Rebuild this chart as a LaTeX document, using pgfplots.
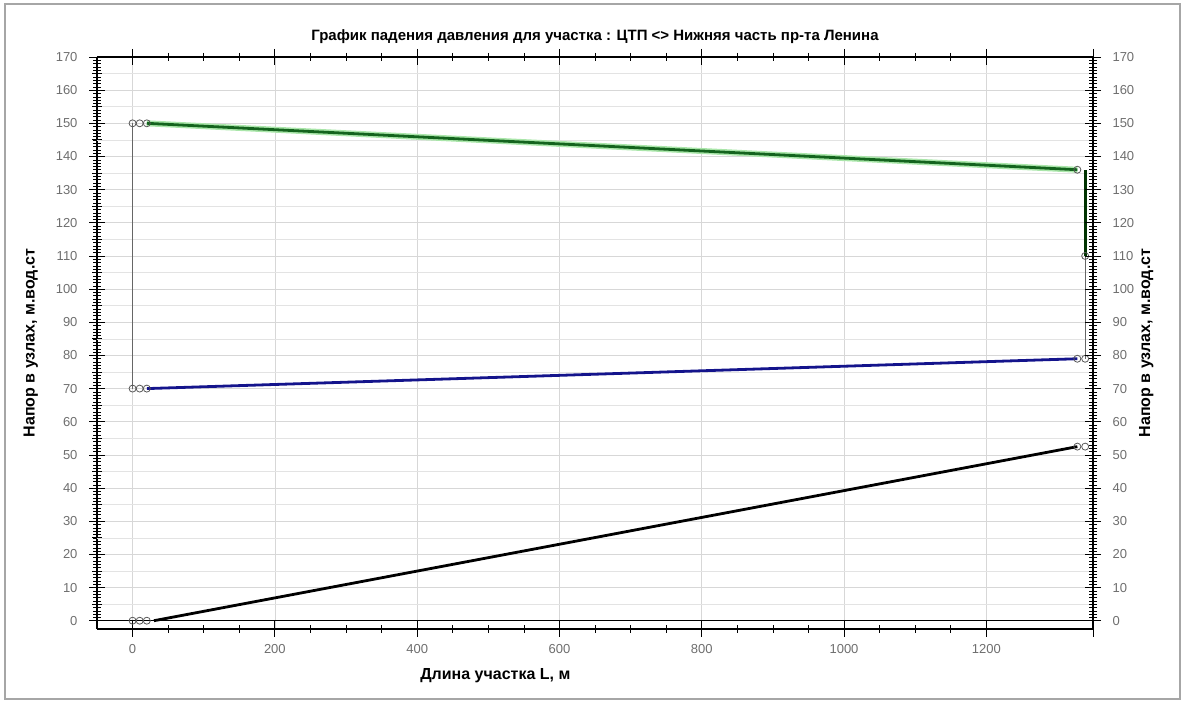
\documentclass[border=0pt]{standalone}
\usepackage{pgfplots}
\pgfplotsset{compat=1.18}
\usepackage{fontspec}
\setmainfont{Liberation Sans}
\definecolor{gridc}{RGB}{215,215,215}
\definecolor{tickc}{RGB}{110,110,110}
\definecolor{greenl}{RGB}{20,100,30}
\definecolor{greenglow}{RGB}{170,230,170}
\definecolor{bluel}{RGB}{20,20,140}
\begin{document}
\begin{tikzpicture}[x=1pt,y=1pt]
\useasboundingbox (-97,-77) rectangle (1087,629);
\draw[gray!70, line width=1.5pt] (-92,-70) rectangle (1083,625);
\pgfplotsset{
  common/.style={
    at={(0,0)}, anchor=south west, width=996pt, height=572pt, scale only axis,
    xmin=-50, xmax=1350, ymin=-2.5, ymax=170,
    ytick={0,10,...,170}, minor y tick num=9,
    tick align=center,
    major tick length=16pt, minor tick length=8pt,
    every tick/.style={black, line width=0.8pt},
    every minor tick/.style={black, line width=0.5pt},
    ticklabel style={text=tickc, font=\fontsize{13}{15}\selectfont},
    /pgf/number format/1000 sep={},
    yticklabel style={/pgf/number format/assume math mode=true},
    xticklabel style={/pgf/number format/assume math mode=true},
    label style={font=\bfseries\fontsize{16}{18}\selectfont},
    axis line style={black, line width=1.2pt},
  }
}
\begin{axis}[common,
  axis y line*=left, axis x line*=box,
  xtick={0,200,...,1200}, minor x tick num=3, xtick pos=both,
  extra x ticks={1350}, extra x tick labels={},
  grid=major, major grid style={gridc, line width=0.7pt},
  extra y ticks={5,15,...,165}, extra y tick labels={},
  extra y tick style={grid=major, major grid style={gridc!70, line width=0.6pt}, major tick length=10pt},
  yticklabel style={xshift=-8pt},
  xticklabel style={yshift=-4pt},
  xlabel={Длина участка L, м},
  ylabel={Напор в узлах, м.вод.ст},
  xlabel style={at={(axis description cs:0.4,0)}, anchor=north, yshift=-36pt},
  ylabel style={yshift=-2pt},
  title={График падения давления для участка : ЦТП <> Нижняя часть пр-та Ленина},
  title style={font=\bfseries\fontsize{15}{17}\selectfont, yshift=4pt},
  clip=false,
]
% grid line at zero (double line)
\addplot[black, line width=1pt, forget plot] coordinates {(-50,0) (1350,0)};
% connecting verticals
\addplot[gray!80!black, line width=1pt] coordinates {(0,70) (0,150)};
\addplot[gray!80!black, line width=1pt] coordinates {(1339,79) (1339,136)};
\addplot[black!80!green, line width=3pt] coordinates {(1339,110) (1339,136)};
% supply (green) with glow
\addplot[greenglow, line width=6pt] coordinates {(20,150) (1328,136)};
\addplot[greenl, line width=2.8pt] coordinates {(20,150) (1328,136)};
% return (blue)
\addplot[bluel, line width=2.8pt] coordinates {(20,70) (1328,79)};
% ground (black)
\addplot[black, line width=2.8pt] coordinates {(30,0) (1328,52.5)};
% node markers
\addplot[only marks, mark=o, mark size=3.5pt, gray!70!black, mark options={fill=white, line width=0.8pt}]
  coordinates {(0,150) (10,150) (20,150) (0,70) (10,70) (20,70) (0,0) (10,0) (20,0)
  (1328,136) (1339,110) (1328,79) (1339,79) (1328,52.5) (1339,52.5)};
\end{axis}
\begin{axis}[common,
  axis y line*=right, axis x line=none,
  ytick pos=right, yticklabel pos=right,
  yticklabel style={xshift=8pt},
  ylabel={Напор в узлах, м.вод.ст},
  ylabel style={yshift=2pt},
]
\addplot[draw=none] coordinates {(0,0)};
\end{axis}
\end{tikzpicture}
\end{document}
